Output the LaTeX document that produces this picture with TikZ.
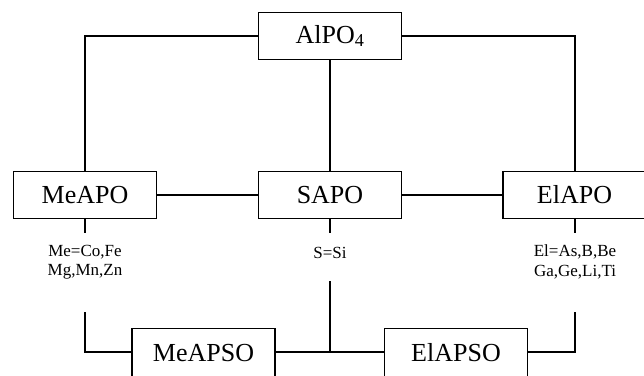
\documentclass[tikz,border=0pt]{standalone}
\usepackage{fontspec}
\setmainfont{Liberation Serif}
\begin{document}
\begin{tikzpicture}[x=1pt,y=-1pt,
  box/.style={draw, line width=1.3pt, minimum width=143pt, minimum height=47pt, inner sep=0pt, font=\fontsize{26}{30}\selectfont},
  lowbox/.style={box, minimum height=49pt},
  lbl/.style={align=center, inner sep=0pt, font=\fontsize{17}{19.5}\selectfont},
  conn/.style={line width=1.4pt}]
\clip (0,0) rectangle (644,375);
\node[box] (alpo) at (330,36) {AlPO\textsubscript{4}};
\node[box] (meapo) at (85,195) {MeAPO};
\node[box] (sapo) at (330,195) {SAPO};
\node[box] (elapo) at (574.5,195) {ElAPO};
\node[lowbox] (meapso) at (203.5,353) {MeAPSO};
\node[lowbox] (elapso) at (456,353) {ElAPSO};
\node[lbl] (lme) at (85,262) {Me=Co,Fe\\Mg,Mn,Zn};
\node[lbl] (ls) at (330,253) {S=Si};
\node[lbl] (lel) at (575,262) {El=As,B,Be\\Ga,Ge,Li,Ti};
\coordinate (s1) at (85,233);
\coordinate (s2) at (330,233);
\coordinate (s3) at (575,233);
\coordinate (m1) at (85,312);
\coordinate (c1) at (330,281);
\coordinate (e1) at (575,312);
\coordinate (hl) at (85,352);
\draw[conn] (alpo.west) -| (meapo.north);
\draw[conn] (alpo.east) -| (s3 |- elapo.north);
\draw[conn] (alpo) -- (sapo);
\draw[conn] (meapo) -- (sapo);
\draw[conn] (sapo) -- (elapo);
\draw[conn] (meapo.south) -- (s1);
\draw[conn] (sapo.south) -- (s2);
\draw[conn] (s3 |- elapo.south) -- (s3);
\draw[conn] (m1) -- (hl) -- (hl -| meapso.west);
\draw[conn] (e1) -- (e1 |- hl) -- (hl -| elapso.east);
\draw[conn] (hl -| meapso.east) -- (hl -| elapso.west);
\draw[conn] (c1) -- (c1 |- hl);
\end{tikzpicture}
\end{document}
